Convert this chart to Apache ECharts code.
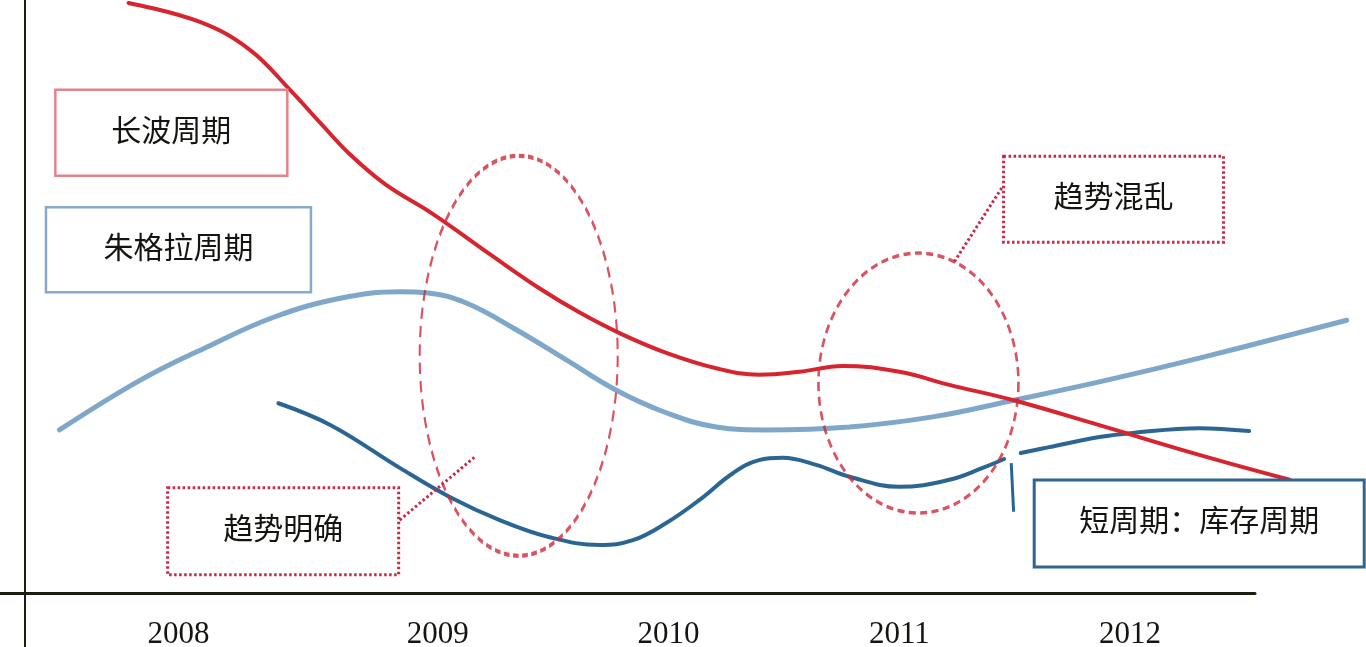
<!DOCTYPE html>
<html lang="zh-CN" style="height: 100%">
<head>
  <meta charset="utf-8">
</head>
<body style="height: 100%; margin: 0; background: #fff">
  <div id="container" style="width: 1366px; height: 647px"></div>

  <script src="https://cdn.jsdelivr.net/npm/echarts@6/dist/echarts.min.js"></script>

  <script type="text/javascript">
    // x = fractional year, y = schematic level (0..100)
    const tickValues = [2008, 2009.09, 2010.06, 2011.03, 2012];
    const tickLabels = ['2008', '2009', '2010', '2011', '2012'];

    // 长波周期
    const longWave = [
      [2007.79, 99.5], [2008.09, 96.3], [2008.30, 91.6], [2008.47, 84.8],
      [2008.60, 79.1], [2008.72, 74.0], [2008.87, 68.9], [2009.07, 63.9],
      [2009.31, 57.1], [2009.52, 51.3], [2009.69, 47.2], [2009.86, 43.7],
      [2010.05, 40.5], [2010.26, 37.9], [2010.44, 36.8], [2010.61, 37.3],
      [2010.79, 38.3], [2011.03, 37.3], [2011.24, 35.1], [2011.51, 32.5],
      [2011.87, 28.3], [2012.29, 23.3], [2012.67, 19.1]
    ];
    // 朱格拉周期
    const juglar = [
      [2007.50, 27.5], [2007.84, 35.9], [2008.12, 41.5], [2008.40, 46.5],
      [2008.68, 49.7], [2008.93, 50.8], [2009.05, 50.6], [2009.21, 48.9],
      [2009.42, 44.4], [2009.63, 39.3], [2009.84, 34.2], [2010.05, 30.4],
      [2010.26, 28.0], [2010.47, 27.5], [2010.82, 28.0], [2011.17, 29.7],
      [2011.51, 32.5], [2011.87, 35.6], [2012.29, 39.6], [2012.91, 46.0]
    ];
    // 库存周期 (two pieces)
    const kitchinA = [
      [2008.42, 32.0], [2008.64, 28.3], [2008.93, 21.1], [2009.14, 16.2],
      [2009.35, 12.3], [2009.56, 9.4], [2009.77, 8.1], [2009.91, 8.9],
      [2010.05, 11.8], [2010.19, 15.7], [2010.33, 20.2], [2010.44, 22.4],
      [2010.54, 22.8], [2010.68, 21.6], [2010.82, 19.6], [2011.03, 17.9],
      [2011.24, 19.1], [2011.38, 21.1], [2011.47, 22.6]
    ];
    const kitchinB = [
      [2011.54, 23.6], [2011.66, 24.6], [2011.87, 26.3], [2012.01, 27.0],
      [2012.29, 27.8], [2012.50, 27.3]
    ];
    const kitchinTick = [[2011.50, 21.9], [2011.51, 13.7]];

    const ellipseCenters = [[2009.43, 40.0], [2011.11, 35.4]];

    const boxNames = ['长波周期', '朱格拉周期', '趋势混乱', '趋势明确', '短周期：库存周期'];
    const boxCenters = [
      [2007.97, 77.6], [2008.00, 57.9], [2011.93, 66.4], [2008.44, 10.4], [2012.29, 11.7]
    ];
    const leaderClear = [[2008.93, 12.3], [2009.25, 23.1]];
    const leaderMixed = [[2011.46, 68.3], [2011.26, 55.8]];

    var dom = document.getElementById('container');
    var myChart = echarts.init(dom, null, { renderer: 'canvas' });
    var option;

    var textFont = '"Liberation Serif", "Noto Sans CJK SC", serif';

    function curve(data, color, width, z) {
      return {
        type: 'line',
        data: data,
        smooth: 0.4,
        symbol: 'none',
        clip: false,
        silent: true,
        z: z,
        lineStyle: { color: color, width: width, cap: 'round' }
      };
    }

    function straight(data, color, width, dash, z) {
      return {
        type: 'line',
        data: data,
        symbol: 'none',
        clip: false,
        silent: true,
        z: z,
        lineStyle: { color: color, width: width, type: dash }
      };
    }

    function ellipse(center, size) {
      return {
        type: 'scatter',
        data: [center],
        symbol: 'circle',
        symbolSize: size,
        clip: false,
        silent: true,
        z: 5,
        itemStyle: {
          color: 'rgba(0,0,0,0)',
          borderColor: '#d02839',
          borderWidth: 3,
          borderType: [8, 5]
        }
      };
    }

    // text box drawn around a centre given in axis units
    function box(i, w, h, color, width, dash) {
      return {
        type: 'custom',
        coordinateSystem: 'cartesian2d',
        data: [boxCenters[i]],
        silent: true,
        z: 8,
        renderItem: function (params, api) {
          var c = api.coord([api.value(0), api.value(1)]);
          return {
            type: 'rect',
            shape: { x: c[0] - w / 2, y: c[1] - h / 2, width: w, height: h },
            style: {
              fill: '#ffffff',
              stroke: color,
              lineWidth: width,
              lineDash: dash
            },
            textContent: {
              style: {
                text: boxNames[i],
                fill: '#141410',
                fontSize: 30,
                fontFamily: textFont
              }
            },
            textConfig: { position: 'inside' }
          };
        }
      };
    }

    option = {
      animation: false,
      backgroundColor: '#ffffff',
      grid: [
        { left: 0, right: 0, top: 0, bottom: 54, outerBoundsMode: 'none' },
        { left: 25, width: 1, top: 0, bottom: 0, outerBoundsMode: 'none' },
        { left: 0, right: 111, top: 0, bottom: 54, outerBoundsMode: 'none' }
      ],
      xAxis: [
        { type: 'value', gridIndex: 0, min: 2007.25, max: 2012.991, show: false },
        { type: 'value', gridIndex: 1, min: 0, max: 1, show: false },
        {
          type: 'value',
          gridIndex: 2,
          min: 2007.25,
          max: 2012.525,
          axisLine: { onZero: false, lineStyle: { color: '#1c1c10', width: 3 } },
          axisTick: { show: false },
          splitLine: { show: false },
          axisLabel: {
            customValues: tickValues,
            margin: 26,
            color: '#141410',
            fontSize: 31,
            fontFamily: '"Liberation Serif", serif',
            formatter: function (v) {
              var k = tickValues.indexOf(v);
              return k >= 0 ? tickLabels[k] : '';
            }
          }
        }
      ],
      yAxis: [
        { type: 'value', gridIndex: 0, min: 0, max: 100, show: false },
        {
          type: 'value',
          gridIndex: 1,
          min: 0,
          max: 1,
          axisLine: { show: true, onZero: false, lineStyle: { color: '#1c1c10', width: 2 } },
          axisTick: { show: false },
          axisLabel: { show: false },
          splitLine: { show: false }
        },
        { type: 'value', gridIndex: 2, min: 0, max: 100, show: false }
      ],
      series: [
        curve(juglar, '#7fa7c9', 5, 2),
        curve(kitchinA, '#2a6593', 4, 3),
        curve(kitchinB, '#2a6593', 4, 3),
        straight(kitchinTick, '#2a6593', 3, 'solid', 3),
        curve(longWave, '#d72530', 4, 4),
        ellipse(ellipseCenters[0], [198, 400]),
        ellipse(ellipseCenters[1], [200, 260]),
        straight(leaderClear, '#c42b48', 3, [2.5, 2.5], 6),
        straight(leaderMixed, '#c42b48', 3, [2.5, 2.5], 6),
        box(0, 232, 86, '#e2848c', 2.5, null),
        box(1, 265, 85, '#87aacb', 2.5, null),
        box(2, 220, 86, '#c42b48', 3, [2.5, 2.5]),
        box(3, 231, 87, '#c42b48', 3, [2.5, 2.5]),
        box(4, 330, 87, '#2f6690', 3, null)
      ]
    };

    if (option && typeof option === 'object') {
      myChart.setOption(option);
    }

    window.addEventListener('resize', myChart.resize);
  </script>
</body>
</html>
